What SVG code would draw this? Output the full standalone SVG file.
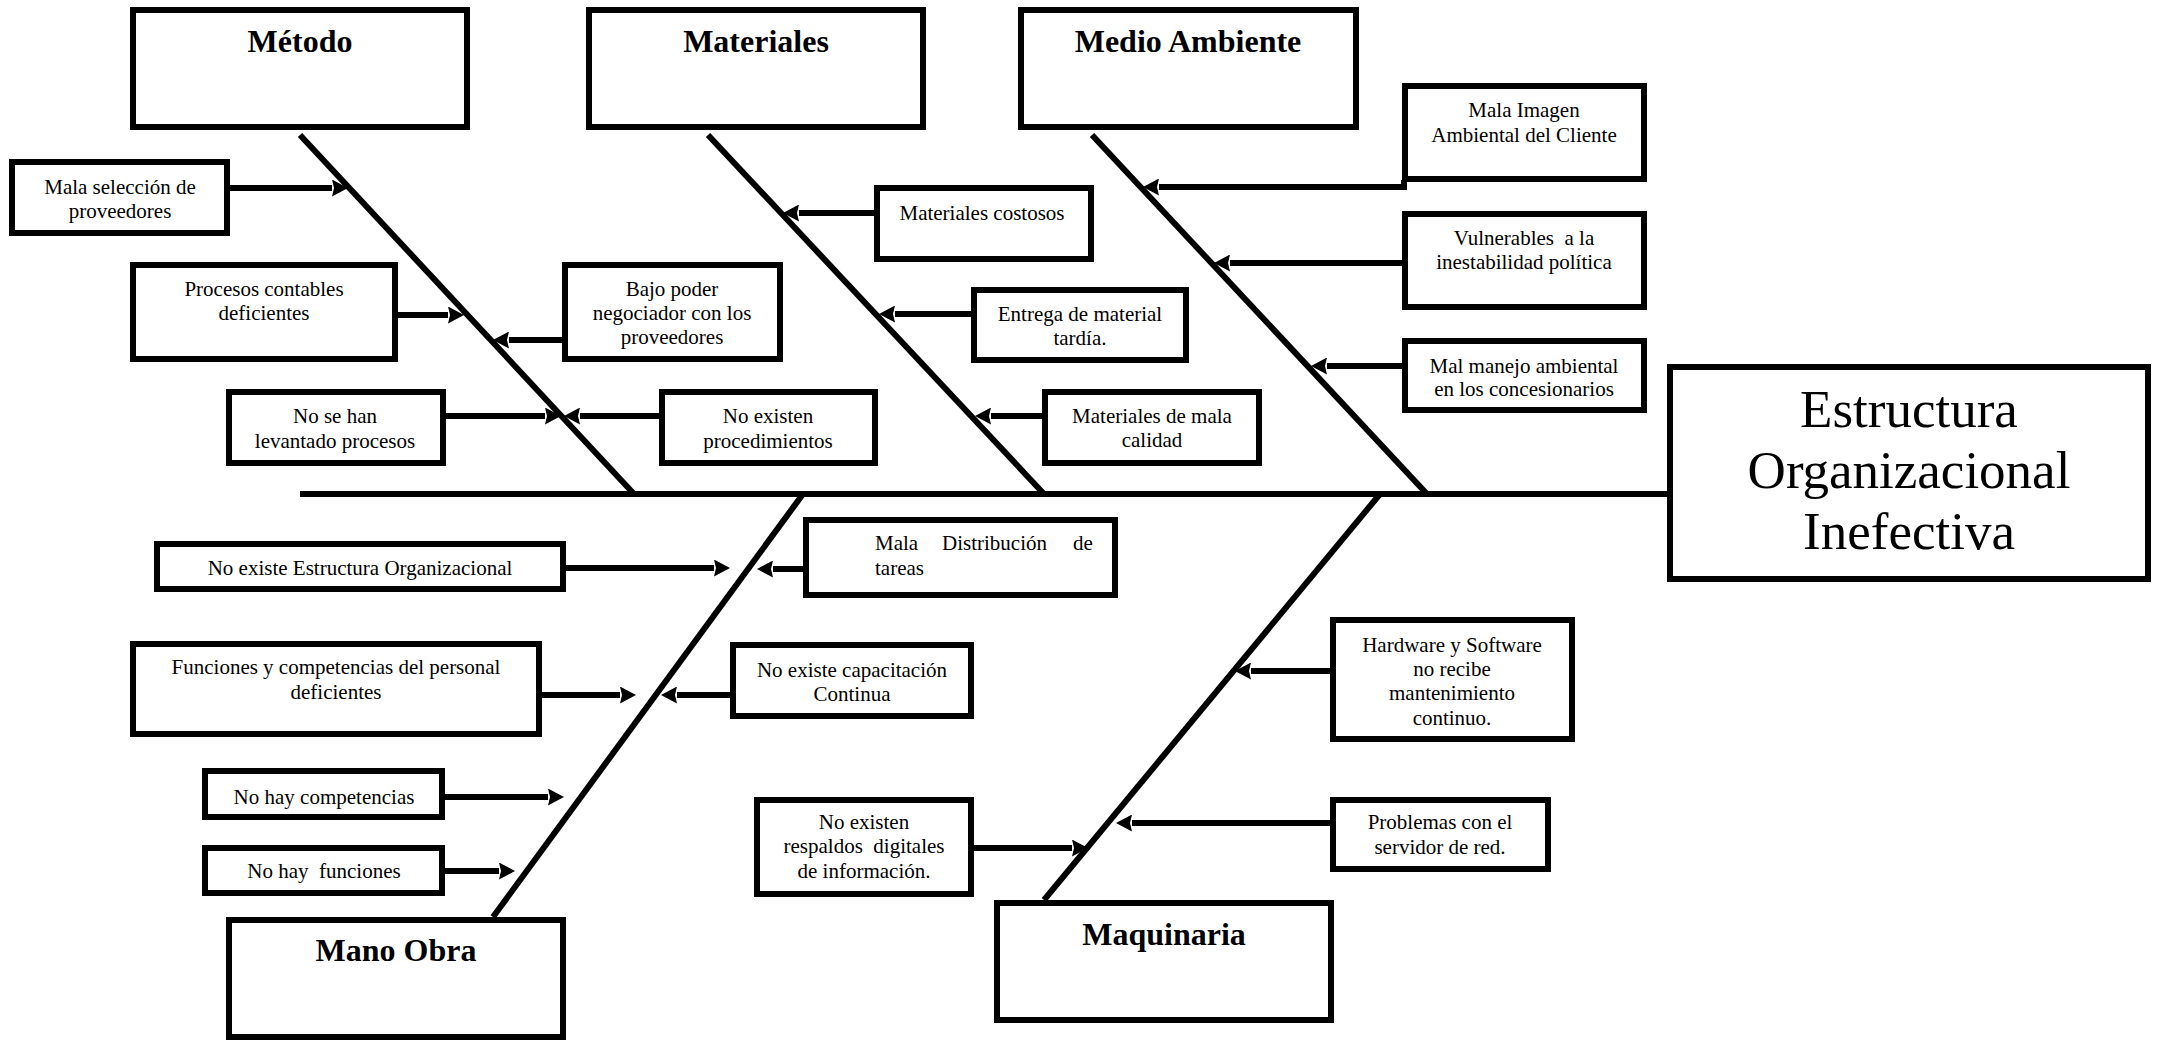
<svg xmlns="http://www.w3.org/2000/svg" width="2157" height="1044" viewBox="0 0 2157 1044">
  <defs>
    <marker id="head" markerUnits="userSpaceOnUse" viewBox="0 0 16 17" markerWidth="16" markerHeight="17" refX="0" refY="8.5" orient="auto">
      <path d="M0,0 L16,8.5 L0,17 L2,8.5 z" fill="#000"/>
    </marker>
  </defs>
  <style>
    .box { fill: #fff; stroke: #000; stroke-width: 6; }
    .t { font-family: "Liberation Serif", "Times New Roman", serif; font-size: 21px; fill: #000; text-anchor: middle; }
    .s { text-anchor: start; }
    .h { font-family: "Liberation Serif", "Times New Roman", serif; font-size: 32px; font-weight: bold; fill: #000; text-anchor: middle; }
    .main { font-family: "Liberation Serif", "Times New Roman", serif; font-size: 53px; fill: #000; text-anchor: middle; }
    .bone { stroke: #000; stroke-width: 6; fill: none; }
    .arr { stroke: #000; stroke-width: 6; fill: none; marker-end: url(#head); }
  </style>

  <rect width="2157" height="1044" fill="#fff"/>

  <!-- spine, bones and cause arrows -->
  <g id="connectors">
    <path class="bone" d="M300,494 H1667"/>
    <path class="bone" d="M300,135 L634,494"/>
    <path class="bone" d="M708,135 L1044,494"/>
    <path class="bone" d="M1092,135 L1427,494"/>
    <path class="bone" d="M803,494 L493,917"/>
    <path class="bone" d="M1380,494 L1044,900"/>

    <path class="arr" d="M230,188 H332"/>
    <path class="arr" d="M398,315 H448"/>
    <path class="arr" d="M562,340 H509"/>
    <path class="arr" d="M446,416 H545"/>
    <path class="arr" d="M659,416 H580"/>
    <path class="arr" d="M874,213 H799"/>
    <path class="arr" d="M971,314 H895"/>
    <path class="arr" d="M1042,416 H991"/>
    <path class="arr" d="M1404,180 V187 H1159"/>
    <path class="arr" d="M1402,263 H1230"/>
    <path class="arr" d="M1402,366 H1327"/>
    <path class="arr" d="M566,568 H714"/>
    <path class="arr" d="M803,569 H773"/>
    <path class="arr" d="M542,695 H620"/>
    <path class="arr" d="M730,695 H677"/>
    <path class="arr" d="M445,797 H548"/>
    <path class="arr" d="M445,871 H499"/>
    <path class="arr" d="M1330,671 H1251"/>
    <path class="arr" d="M1330,823 H1132"/>
    <path class="arr" d="M974,848 H1072"/>
  </g>

  <!-- category headers -->
  <g id="metodo">
    <rect class="box" x="133" y="10" width="334" height="117"/>
    <text class="h" x="300" y="52">Método</text>
  </g>
  <g id="materiales">
    <rect class="box" x="589" y="10" width="334" height="117"/>
    <text class="h" x="756" y="52">Materiales</text>
  </g>
  <g id="medio-ambiente">
    <rect class="box" x="1021" y="10" width="335" height="117"/>
    <text class="h" x="1188" y="52">Medio Ambiente</text>
  </g>
  <g id="mano-obra">
    <rect class="box" x="229" y="920" width="334" height="117"/>
    <text class="h" x="396" y="961">Mano Obra</text>
  </g>
  <g id="maquinaria">
    <rect class="box" x="997" y="903" width="334" height="117"/>
    <text class="h" x="1164" y="945">Maquinaria</text>
  </g>

  <!-- effect -->
  <g id="efecto">
    <rect class="box" x="1670" y="367" width="478" height="212"/>
    <text class="main" x="1909" y="427">Estructura</text>
    <text class="main" x="1909" y="488">Organizacional</text>
    <text class="main" x="1909" y="549">Inefectiva</text>
  </g>

  <!-- Método causes -->
  <g id="mala-seleccion">
    <rect class="box" x="12" y="162" width="215" height="71"/>
    <text class="t" x="120" y="194">Mala selección de</text>
    <text class="t" x="120" y="218">proveedores</text>
  </g>
  <g id="procesos-contables">
    <rect class="box" x="133" y="265" width="262" height="94"/>
    <text class="t" x="264" y="296">Procesos contables</text>
    <text class="t" x="264" y="320">deficientes</text>
  </g>
  <g id="bajo-poder">
    <rect class="box" x="565" y="265" width="215" height="94"/>
    <text class="t" x="672" y="296">Bajo poder</text>
    <text class="t" x="672" y="320">negociador con los</text>
    <text class="t" x="672" y="344">proveedores</text>
  </g>
  <g id="no-se-han">
    <rect class="box" x="229" y="392" width="214" height="71"/>
    <text class="t" x="335" y="423">No se han</text>
    <text class="t" x="335" y="448">levantado procesos</text>
  </g>
  <g id="no-existen-procedimientos">
    <rect class="box" x="662" y="392" width="213" height="71"/>
    <text class="t" x="768" y="423">No existen</text>
    <text class="t" x="768" y="448">procedimientos</text>
  </g>

  <!-- Materiales causes -->
  <g id="materiales-costosos">
    <rect class="box" x="877" y="188" width="214" height="71"/>
    <text class="t" x="982" y="220">Materiales costosos</text>
  </g>
  <g id="entrega-tardia">
    <rect class="box" x="974" y="290" width="212" height="70"/>
    <text class="t" x="1080" y="321">Entrega de material</text>
    <text class="t" x="1080" y="345">tardía.</text>
  </g>
  <g id="mala-calidad">
    <rect class="box" x="1045" y="392" width="214" height="71"/>
    <text class="t" x="1152" y="423">Materiales de mala</text>
    <text class="t" x="1152" y="447">calidad</text>
  </g>

  <!-- Medio Ambiente causes -->
  <g id="mala-imagen">
    <rect class="box" x="1405" y="86" width="239" height="93"/>
    <text class="t" x="1524" y="117">Mala Imagen</text>
    <text class="t" x="1524" y="142">Ambiental del Cliente</text>
  </g>
  <g id="vulnerables">
    <rect class="box" x="1405" y="214" width="239" height="93"/>
    <text class="t" x="1524" y="245" xml:space="preserve">Vulnerables  a la</text>
    <text class="t" x="1524" y="269">inestabilidad política</text>
  </g>
  <g id="mal-manejo">
    <rect class="box" x="1405" y="341" width="239" height="69"/>
    <text class="t" x="1524" y="373">Mal manejo ambiental</text>
    <text class="t" x="1524" y="396">en los concesionarios</text>
  </g>

  <!-- Mano Obra causes -->
  <g id="no-existe-estructura">
    <rect class="box" x="157" y="544" width="406" height="45"/>
    <text class="t" x="360" y="575">No existe Estructura Organizacional</text>
  </g>
  <g id="mala-distribucion">
    <rect class="box" x="806" y="520" width="309" height="75"/>
    <text class="t s" y="550"><tspan x="875">Mala</tspan><tspan x="942">Distribución</tspan><tspan x="1073">de</tspan></text>
    <text class="t s" x="875" y="575">tareas</text>
  </g>
  <g id="funciones-competencias">
    <rect class="box" x="133" y="644" width="406" height="90"/>
    <text class="t" x="336" y="674">Funciones y competencias del personal</text>
    <text class="t" x="336" y="699">deficientes</text>
  </g>
  <g id="no-capacitacion">
    <rect class="box" x="733" y="645" width="238" height="71"/>
    <text class="t" x="852" y="677">No existe capacitación</text>
    <text class="t" x="852" y="701">Continua</text>
  </g>
  <g id="no-competencias">
    <rect class="box" x="205" y="771" width="237" height="46"/>
    <text class="t" x="324" y="804">No hay competencias</text>
  </g>
  <g id="no-funciones">
    <rect class="box" x="205" y="848" width="237" height="45"/>
    <text class="t" x="324" y="878" xml:space="preserve">No hay  funciones</text>
  </g>

  <!-- Maquinaria causes -->
  <g id="hardware-software">
    <rect class="box" x="1333" y="620" width="239" height="119"/>
    <text class="t" x="1452" y="652">Hardware y Software</text>
    <text class="t" x="1452" y="676">no recibe</text>
    <text class="t" x="1452" y="700">mantenimiento</text>
    <text class="t" x="1452" y="725">continuo.</text>
  </g>
  <g id="servidor-red">
    <rect class="box" x="1333" y="800" width="215" height="69"/>
    <text class="t" x="1440" y="829">Problemas con el</text>
    <text class="t" x="1440" y="854">servidor de red.</text>
  </g>
  <g id="respaldos">
    <rect class="box" x="757" y="800" width="214" height="94"/>
    <text class="t" x="864" y="829">No existen</text>
    <text class="t" x="864" y="853" xml:space="preserve">respaldos  digitales</text>
    <text class="t" x="864" y="878">de información.</text>
  </g>
</svg>
